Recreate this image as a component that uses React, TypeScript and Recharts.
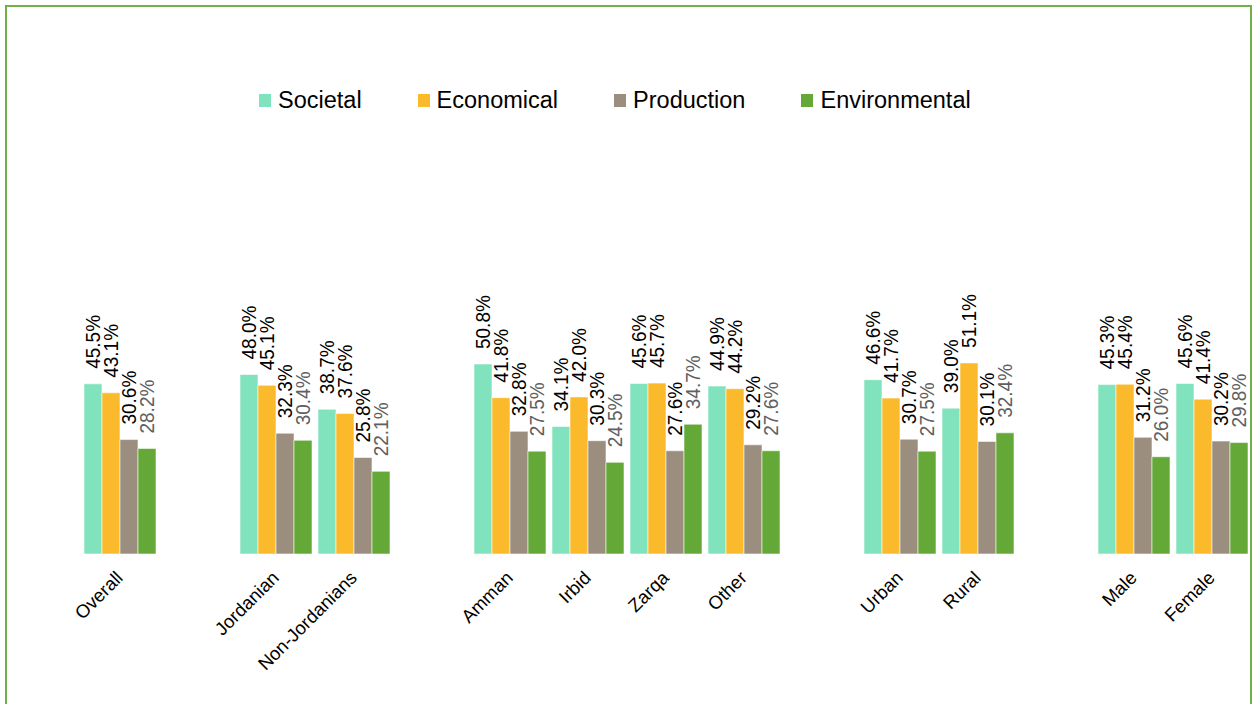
import { BarChart, Bar, XAxis, YAxis, Legend, LabelList } from 'recharts'

const categories = [
  'Overall', '', 'Jordanian', 'Non-Jordanians', '',
  'Amman', 'Irbid', 'Zarqa', 'Other', '',
  'Urban', 'Rural', '', 'Male', 'Female',
]
const societal = [45.5, null, 48.0, 38.7, null, 50.8, 34.1, 45.6, 44.9, null, 46.6, 39.0, null, 45.3, 45.6]
const economical = [43.1, null, 45.1, 37.6, null, 41.8, 42.0, 45.7, 44.2, null, 41.7, 51.1, null, 45.4, 41.4]
const production = [30.6, null, 32.3, 25.8, null, 32.8, 30.3, 27.6, 29.2, null, 30.7, 30.1, null, 31.2, 30.2]
const environmental = [28.2, null, 30.4, 22.1, null, 27.5, 24.5, 34.7, 27.6, null, 27.5, 32.4, null, 26.0, 29.8]

const FONT = '"Liberation Sans", Arial, sans-serif'

const series = [
  { key: 'societal', name: 'Societal', color: '#80e3bd', labelColor: '#000000' },
  { key: 'economical', name: 'Economical', color: '#fbba2b', labelColor: '#000000' },
  { key: 'production', name: 'Production', color: '#9c8e7e', labelColor: '#000000' },
  { key: 'environmental', name: 'Environmental', color: '#64a837', labelColor: '#606060' },
]

const data = categories.map((name, i) => ({
  name,
  societal: societal[i],
  economical: economical[i],
  production: production[i],
  environmental: environmental[i],
}))

// vertical value label sitting just above each bar
function valueLabel(color: string) {
  return (props: any) => {
    const { x, y, width, value } = props
    if (value == null) return null
    const cx = Number(x) + Number(width) / 2
    const ty = Number(y) - 15
    return (
      <text
        x={0}
        y={0}
        transform={`translate(${cx} ${ty}) rotate(-90) scale(1 1.1)`}
        textAnchor="start"
        dominantBaseline="central"
        fill={color}
        fontSize={19}
        fontFamily={FONT}
      >
        {Number(value).toFixed(1)}%
      </text>
    )
  }
}

function CategoryTick(props: any) {
  const { x, y, payload } = props
  if (!payload?.value) return null
  const tx = x + 4
  const ty = y + 25
  return (
    <text
      x={tx}
      y={ty}
      transform={`rotate(-45 ${tx} ${ty})`}
      textAnchor="end"
      fill="#000"
      fontSize={18.5}
      fontFamily={FONT}
    >
      {payload.value}
    </text>
  )
}

function ChartLegend() {
  return (
    <div style={{ display: 'flex', alignItems: 'center', fontFamily: FONT, fontSize: 23.5, lineHeight: '26px' }}>
      {series.map(s => (
        <div key={s.key} style={{ display: 'flex', alignItems: 'center', marginRight: 56 }}>
          <span style={{ width: 12, height: 13, background: s.color, marginRight: 7, display: 'inline-block' }} />
          <span style={{ color: '#000' }}>{s.name}</span>
        </div>
      ))}
    </div>
  )
}

export default function App() {
  return (
    <div style={{ position: 'fixed', left: 0, top: 0, width: 1256, height: 704, background: '#fff', overflow: 'hidden' }}>
      <div
        style={{
          position: 'absolute', left: 5, top: 5, width: 1247, height: 720,
          border: '2px solid #6db246', boxSizing: 'border-box',
        }}
      />
      <div style={{ position: 'absolute', left: 0, top: 0 }}>
        <BarChart
          width={1256}
          height={704}
          data={data}
          margin={{ top: 180, right: 5, bottom: 0, left: 81 }}
          barCategoryGap={3}
          barGap={0}
        >
          <XAxis
            dataKey="name"
            axisLine={false}
            tickLine={false}
            tickSize={0}
            tickMargin={0}
            height={150}
            interval={0}
            tick={<CategoryTick />}
          />
          <YAxis hide domain={[0, 100]} />
          <Legend
            layout="horizontal"
            verticalAlign="middle"
            align="center"
            content={<ChartLegend />}
            wrapperStyle={{ top: 87, left: 259, width: 780, height: 26 }}
          />
          {series.map(s => (
            <Bar
              key={s.key}
              dataKey={s.key}
              name={s.name}
              fill={s.color}
              stroke="#ffffff"
              strokeOpacity={0.55}
              strokeWidth={1}
              isAnimationActive={false}
            >
              <LabelList dataKey={s.key} content={valueLabel(s.labelColor)} />
            </Bar>
          ))}
        </BarChart>
      </div>
    </div>
  )
}
